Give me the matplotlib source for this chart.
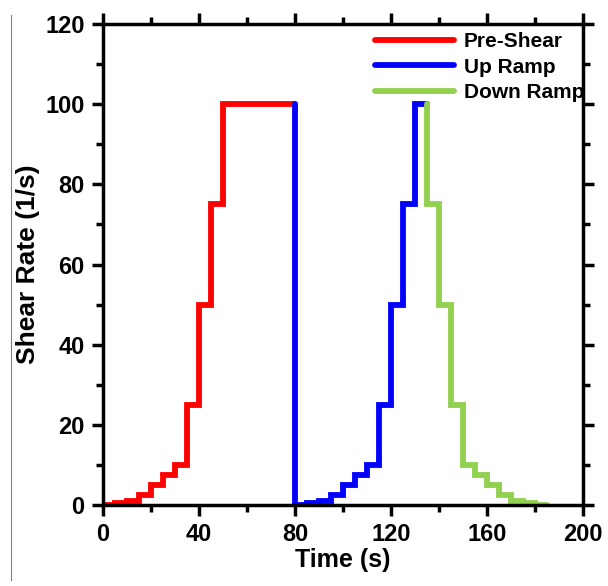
import matplotlib

matplotlib.use("Agg")
import matplotlib.pyplot as plt
from matplotlib.lines import Line2D
from matplotlib.ticker import MultipleLocator

plt.rcParams["font.family"] = ["Liberation Sans", "DejaVu Sans"]
plt.rcParams["font.weight"] = "bold"

# Pre-Shear: ramp up (5 s per level) then hold at 100 until 80 s
pre_t = [0, 5, 10, 15, 20, 25, 30, 35, 40, 45, 50, 80]
pre_rate = [0.1, 0.5, 1, 2.5, 5, 7.5, 10, 25, 50, 75, 100, 100]

# Up Ramp: drops to zero at 80 s, then steps up
up_t = [80, 80, 85, 90, 95, 100, 105, 110, 115, 120, 125, 130, 135]
up_rate = [100, 0.1, 0.5, 1, 2.5, 5, 7.5, 10, 25, 50, 75, 100, 100]

# Down Ramp: steps back down from 100
down_t = [135, 135, 140, 145, 150, 155, 160, 165, 170, 175, 180, 185]
down_rate = [100, 75, 50, 25, 10, 7.5, 5, 2.5, 1, 0.5, 0.1, 0.1]

fig = plt.figure(figsize=(6.08, 5.86), dpi=100)
ax = fig.add_axes([0.169, 0.138, 0.790, 0.821])

line_kw = dict(lw=4.2, drawstyle="steps-post", solid_capstyle="round", solid_joinstyle="miter")
ax.plot(pre_t, pre_rate, color="#FF0000", label="Pre-Shear", **line_kw)
ax.plot(up_t, up_rate, color="#0000FF", label="Up Ramp", **line_kw)
ax.plot(down_t, down_rate, color="#92D050", label="Down Ramp", **line_kw)

ax.set_xlim(0, 200)
ax.set_ylim(0, 120)
ax.xaxis.set_major_locator(MultipleLocator(40))
ax.xaxis.set_minor_locator(MultipleLocator(20))
ax.yaxis.set_major_locator(MultipleLocator(20))
ax.yaxis.set_minor_locator(MultipleLocator(10))

for sp in ax.spines.values():
    sp.set_linewidth(2.5)
ax.tick_params(which="both", direction="out", width=2.5, top=True, right=True,
               labeltop=False, labelright=False, labelsize=17)
ax.tick_params(which="major", length=8, pad=5)
ax.tick_params(which="minor", length=5)

ax.set_xlabel("Time (s)", fontsize=18, fontweight="bold", labelpad=1)
ax.set_ylabel("Shear Rate (1/s)", fontsize=19, fontweight="bold", labelpad=4)

leg = ax.legend(loc="upper right", frameon=False, fontsize=15, handlelength=3.8,
                borderaxespad=0.0, labelspacing=0.3, handletextpad=0.45,
                bbox_to_anchor=(1.02, 1.0))
for t in leg.get_texts():
    t.set_fontweight("bold")

# thin border line at the left edge of the screenshot
fig.add_artist(Line2D([0.018, 0.018], [0.01, 0.975], transform=fig.transFigure,
                      color="#808080", lw=0.8))

fig.savefig("out.png", dpi=100)
